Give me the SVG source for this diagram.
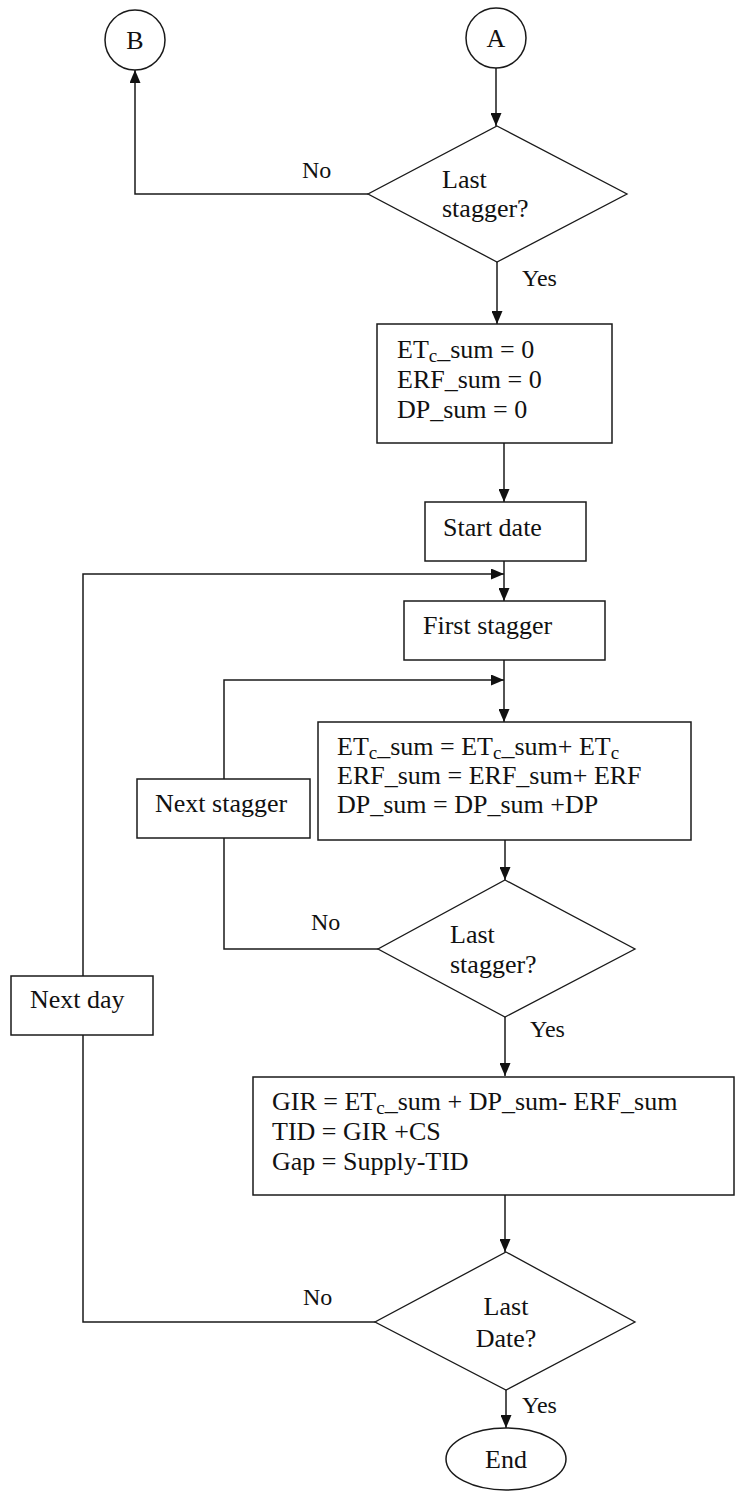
<svg xmlns="http://www.w3.org/2000/svg" width="736" height="1492" viewBox="0 0 736 1492">
<style>
.shape{fill:#fff;stroke:#1a1a1a;stroke-width:1.5}
.dia{fill:#fff;stroke:#1a1a1a;stroke-width:1.3}
.conn{fill:none;stroke:#1a1a1a;stroke-width:1.5}
text{font-family:"Liberation Serif","Times New Roman",serif;font-size:26px;fill:#111}
.lbl{font-size:24px}
.mid{text-anchor:middle}
</style>
<defs>
<marker id="arr" markerUnits="userSpaceOnUse" markerWidth="13" markerHeight="11" refX="13" refY="5.5" orient="auto">
<path d="M0,0 L13,5.5 L0,11 z" fill="#111"/>
</marker>
</defs>
<rect width="736" height="1492" fill="#fff"/>

<g id="connectors">
<path class="conn" d="M496,68 V126" marker-end="url(#arr)"/>
<path class="conn" d="M368,194 H135 V70" marker-end="url(#arr)"/>
<path class="conn" d="M497,262 V324" marker-end="url(#arr)"/>
<path class="conn" d="M504,443 V502" marker-end="url(#arr)"/>
<path class="conn" d="M504,561 V601" marker-end="url(#arr)"/>
<path class="conn" d="M83,976 V574 H504" marker-end="url(#arr)"/>
<path class="conn" d="M375,1322 H83 V1035"/>
<path class="conn" d="M504,660 V722" marker-end="url(#arr)"/>
<path class="conn" d="M224,779 V680 H504" marker-end="url(#arr)"/>
<path class="conn" d="M378,949 H224 V838"/>
<path class="conn" d="M505,840 V880" marker-end="url(#arr)"/>
<path class="conn" d="M505,1017 V1076" marker-end="url(#arr)"/>
<path class="conn" d="M505,1195 V1252" marker-end="url(#arr)"/>
<path class="conn" d="M506,1390 V1428" marker-end="url(#arr)"/>
<text class="lbl" x="302" y="178">No</text>
<text class="lbl" x="522" y="286">Yes</text>
<text class="lbl" x="311" y="930">No</text>
<text class="lbl" x="530" y="1037">Yes</text>
<text class="lbl" x="303" y="1305">No</text>
<text class="lbl" x="522" y="1413">Yes</text>
</g>

<g id="node-B">
<circle class="shape" cx="135" cy="40" r="30"/>
<text class="mid" x="135" y="49">B</text>
</g>

<g id="node-A">
<circle class="shape" cx="496" cy="38" r="30"/>
<text class="mid" x="496" y="47">A</text>
</g>

<g id="node-last-stagger-1">
<polygon class="dia" points="497,126 627,194 497,262 368,194"/>
<text x="442" y="188">Last</text>
<text x="442" y="217">stagger?</text>
</g>

<g id="node-init">
<rect class="shape" x="377" y="324" width="235" height="119"/>
<text x="397" y="358">ET<tspan font-size="19" dy="4">c</tspan><tspan dy="-4">_sum = 0</tspan></text>
<text x="397" y="388">ERF_sum = 0</text>
<text x="397" y="418">DP_sum = 0</text>
</g>

<g id="node-start-date">
<rect class="shape" x="425" y="502" width="161" height="59"/>
<text x="443" y="536">Start date</text>
</g>

<g id="node-first-stagger">
<rect class="shape" x="404" y="601" width="201" height="59"/>
<text x="423" y="634">First stagger</text>
</g>

<g id="node-accumulate">
<rect class="shape" x="318" y="722" width="373" height="118"/>
<text x="337" y="755">ET<tspan font-size="19" dy="4">c</tspan><tspan dy="-4">_sum = ET</tspan><tspan font-size="19" dy="4">c</tspan><tspan dy="-4">_sum+ ET</tspan><tspan font-size="19" dy="4">c</tspan></text>
<text x="337" y="784">ERF_sum = ERF_sum+ ERF</text>
<text x="337" y="813">DP_sum = DP_sum +DP</text>
</g>

<g id="node-next-stagger">
<rect class="shape" x="137" y="779" width="173" height="59"/>
<text x="155" y="812">Next stagger</text>
</g>

<g id="node-last-stagger-2">
<polygon class="dia" points="505,880 635,949 505,1017 378,949"/>
<text x="450" y="943">Last</text>
<text x="450" y="973">stagger?</text>
</g>

<g id="node-next-day">
<rect class="shape" x="11" y="976" width="142" height="59"/>
<text x="30" y="1008">Next day</text>
</g>

<g id="node-gir">
<rect class="shape" x="253" y="1077" width="481" height="118"/>
<text x="272" y="1110">GIR = ET<tspan font-size="19" dy="4">c</tspan><tspan dy="-4">_sum + DP_sum- ERF_sum</tspan></text>
<text x="272" y="1140">TID = GIR +CS</text>
<text x="272" y="1170">Gap = Supply-TID</text>
</g>

<g id="node-last-date">
<polygon class="dia" points="506,1252 635,1322 506,1390 375,1322"/>
<text class="mid" x="506" y="1315">Last</text>
<text class="mid" x="506" y="1347">Date?</text>
</g>

<g id="node-end">
<ellipse class="shape" cx="506" cy="1459" rx="60" ry="31"/>
<text class="mid" x="506" y="1468">End</text>
</g>
</svg>
